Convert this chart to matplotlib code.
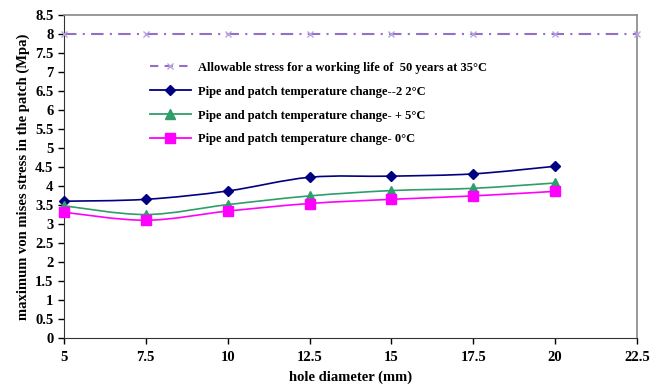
import matplotlib
matplotlib.use('Agg')
from matplotlib import pyplot as plt
from matplotlib.path import Path
from matplotlib.patches import PathPatch
from matplotlib.lines import Line2D
import numpy as np

plt.rcParams['font.family'] = ['Liberation Serif', 'DejaVu Serif']
plt.rcParams['font.weight'] = 'bold'

# datos
diameter = [5, 7.5, 10, 12.5, 15, 17.5, 20]
allow_x = [5, 7.5, 10, 12.5, 15, 17.5, 20, 22.5]
allow_y = [8, 8, 8, 8, 8, 8, 8, 8]
stress_m22 = [3.60, 3.65, 3.87, 4.23, 4.26, 4.32, 4.52]
stress_p5 = [3.48, 3.25, 3.51, 3.74, 3.88, 3.94, 4.08]
stress_0 = [3.31, 3.10, 3.34, 3.54, 3.65, 3.74, 3.86]

labels = ['Allowable stress for a working life of  50 years at 35°C',
          'Pipe and patch temperature change--2 2°C',
          'Pipe and patch temperature change- + 5°C',
          'Pipe and patch temperature change- 0°C']
xticks = [5, 7.5, 10, 12.5, 15, 17.5, 20, 22.5]
yticks = np.arange(0, 8.51, 0.5)


def smooth_path(x, y):
    # curva suavizada tipo Excel (Catmull-Rom -> Bezier)
    x = np.asarray(x, float)
    y = np.asarray(y, float)
    verts = [(x[0], y[0])]
    codes = [Path.MOVETO]
    n = len(x)
    for i in range(n - 1):
        p0 = (x[max(i - 1, 0)], y[max(i - 1, 0)])
        p1 = (x[i], y[i])
        p2 = (x[i + 1], y[i + 1])
        p3 = (x[min(i + 2, n - 1)], y[min(i + 2, n - 1)])
        c1 = (p1[0] + (p2[0] - p0[0]) / 6, p1[1] + (p2[1] - p0[1]) / 6)
        c2 = (p2[0] - (p3[0] - p1[0]) / 6, p2[1] - (p3[1] - p1[1]) / 6)
        verts += [c1, c2, p2]
        codes += [Path.CURVE4] * 3
    return Path(verts, codes)


fig = plt.figure(figsize=(6.52, 3.91), dpi=100)
ax = fig.add_axes([0.098, 0.1355, 0.879, 0.826])

ax.plot(allow_x, allow_y, color='#9370c8', ls=(0, (6, 3, 1, 3)), lw=1.5,
        marker='x', ms=5, mew=1, mec='#b9a3dd', clip_on=False, zorder=3)

series = [(stress_m22, '#000080', 'D', 5),
          (stress_p5, '#2e9e6b', '^', 7),
          (stress_0, '#ff00ff', 's', 7)]
for vals, col, mk, ms in series:
    ax.add_patch(PathPatch(smooth_path(diameter, vals), fill=False,
                           edgecolor=col, lw=1.2))
    ax.plot(diameter, vals, ls='none', marker=mk, ms=ms, color=col,
            clip_on=False, zorder=4)

ax.set_xlim(5, 22.5)
ax.set_ylim(0, 8.5)
ax.set_xticks(xticks)
ax.set_xticklabels(['5', '7.5', '10', '12.5', '15', '17.5', '20', '22.5'])
ax.set_yticks(yticks)
ax.set_yticklabels(['%g' % v for v in yticks])
ax.tick_params(labelsize=10.5, length=4, direction='out', width=1)
ax.tick_params(axis='x', pad=5)

for s in ['top', 'right']:
    ax.spines[s].set_color('#888888')
    ax.spines[s].set_linewidth(1.2)
for s in ['left', 'bottom']:
    ax.spines[s].set_color('#333333')

ax.set_xlabel('hole diameter (mm)', fontsize=10.5, fontweight='bold', labelpad=5)
ax.set_ylabel('maximum von mises stress in the patch (Mpa)', fontsize=10.5,
              fontweight='bold', labelpad=4)

handles = [Line2D([], [], color='#9370c8', ls=(0, (4, 3)), lw=1.5, marker='x',
                  ms=5, mec='#b9a3dd'),
           Line2D([], [], color='#000080', marker='D', ms=5, lw=1.3),
           Line2D([], [], color='#2e9e6b', marker='^', ms=7, lw=1.3),
           Line2D([], [], color='#ff00ff', marker='s', ms=7, lw=1.3)]
ax.legend(handles, labels, loc='upper left', bbox_to_anchor=(0.13, 0.89),
          frameon=False, fontsize=9, labelspacing=0.95, handlelength=3.3,
          handletextpad=0.6)

fig.savefig('out.png', dpi=100)
